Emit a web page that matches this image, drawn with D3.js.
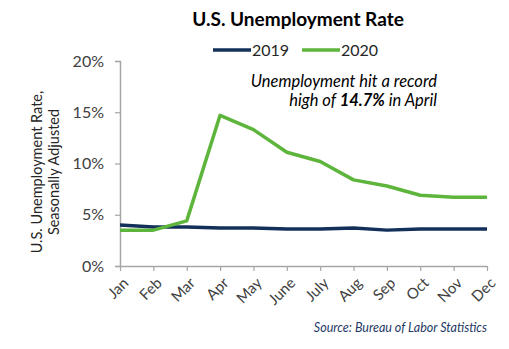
<!DOCTYPE html>
<html>
<head>
<meta charset="utf-8">
<script src="https://cdn.jsdelivr.net/npm/d3@7"></script>
<style>
  body { margin: 0; background: #fff; }
  text { font-family: Lato, "Open Sans", sans-serif; }
</style>
</head>
<body>
<div id="chart"></div>
<script>
const months = ['Jan', 'Feb', 'Mar', 'Apr', 'May', 'June', 'July', 'Aug', 'Sep', 'Oct', 'Nov', 'Dec'];
const rate2019 = [4.0, 3.8, 3.8, 3.7, 3.7, 3.6, 3.6, 3.7, 3.5, 3.6, 3.6, 3.6];
const rate2020 = [3.5, 3.5, 4.4, 14.7, 13.3, 11.1, 10.2, 8.4, 7.8, 6.9, 6.7, 6.7];
const yTicks = [0, 5, 10, 15, 20];

const width = 509, height = 349;
const margin = {top: 61, right: 22, bottom: 83, left: 120};

const svg = d3.select('#chart').append('svg')
  .attr('width', width)
  .attr('height', height)
  .attr('viewBox', [0, 0, width, height]);

const x = d3.scalePoint()
  .domain(months)
  .range([margin.left, width - margin.right]);

const y = d3.scaleLinear()
  .domain([0, 20])
  .range([height - margin.bottom, margin.top]);

// title
svg.append('text')
  .attr('x', 298).attr('y', 26)
  .attr('text-anchor', 'middle')
  .attr('font-size', 19).attr('font-weight', 'bold')
  .attr('fill', '#000')
  .text('U.S. Unemployment Rate');

// axes
const yAxis = svg.append('g')
  .attr('transform', `translate(${margin.left},0)`)
  .call(d3.axisLeft(y).tickValues(yTicks).tickFormat(d => d + '%').tickSize(5).tickPadding(11));

const xAxis = svg.append('g')
  .attr('transform', `translate(0,${height - margin.bottom})`)
  .call(d3.axisBottom(x).tickSize(5).tickSizeOuter(0));

[yAxis, xAxis].forEach(g => {
  g.select('.domain').attr('stroke', '#a6a6a6').attr('stroke-width', 1.5);
  g.selectAll('.tick line').attr('stroke', '#a6a6a6').attr('stroke-width', 1.2);
  g.selectAll('.tick text').attr('fill', '#404040').attr('font-size', 16)
    .attr('font-family', 'Lato, "Open Sans", sans-serif');
});

xAxis.selectAll('.tick text')
  .attr('font-size', 15)
  .attr('text-anchor', 'end')
  .attr('dy', null)
  .attr('y', 0)
  .attr('transform', 'translate(9,18) rotate(-45)');

// y axis title
const yTitle = svg.append('text')
  .attr('transform', 'translate(42,172) rotate(-90)')
  .attr('text-anchor', 'middle')
  .attr('font-size', 14.5).attr('fill', '#262626');
yTitle.append('tspan').attr('x', 0).attr('dy', 0).text('U.S. Unemployment Rate,');
yTitle.append('tspan').attr('x', 0).attr('dy', 17).text('Seasonally Adjusted');

// lines
const series = [
  {name: '2019', values: rate2019, color: '#12305a'},
  {name: '2020', values: rate2020, color: '#5db53c'}
];

const line = d3.line()
  .x((d, i) => x(months[i]))
  .y(d => y(d));

series.forEach(s => {
  svg.append('path')
    .datum(s.values)
    .attr('fill', 'none')
    .attr('stroke', s.color)
    .attr('stroke-width', 3.5)
    .attr('stroke-linejoin', 'round')
    .attr('d', line);
});

// legend
const legend = svg.append('g');
const legendX = [213, 302];
series.forEach((s, i) => {
  const g = legend.append('g').attr('transform', `translate(${legendX[i]},50)`);
  g.append('line').attr('x1', 0).attr('x2', 38).attr('y1', 0).attr('y2', 0)
    .attr('stroke', s.color).attr('stroke-width', 3.5);
  g.append('text').attr('x', 39).attr('y', 6)
    .attr('font-size', 16).attr('fill', '#262626')
    .text(s.name);
});

// annotation
const note = svg.append('text')
  .attr('text-anchor', 'end')
  .attr('font-size', 16.5).attr('font-style', 'italic').attr('fill', '#000');
note.append('tspan').attr('x', 437).attr('y', 87).text('Unemployment hit a record');
const l2 = note.append('tspan').attr('x', 437).attr('y', 106);
l2.append('tspan').text('high of ');
l2.append('tspan').attr('font-weight', 'bold').text(d3.max(rate2020) + '%');
l2.append('tspan').text(' in April');

// source
svg.append('text')
  .attr('x', 487).attr('y', 332)
  .attr('text-anchor', 'end')
  .attr('font-size', 12.5).attr('font-style', 'italic').attr('fill', '#1f3864')
  .text('Source: Bureau of Labor Statistics');
</script>
</body>
</html>
